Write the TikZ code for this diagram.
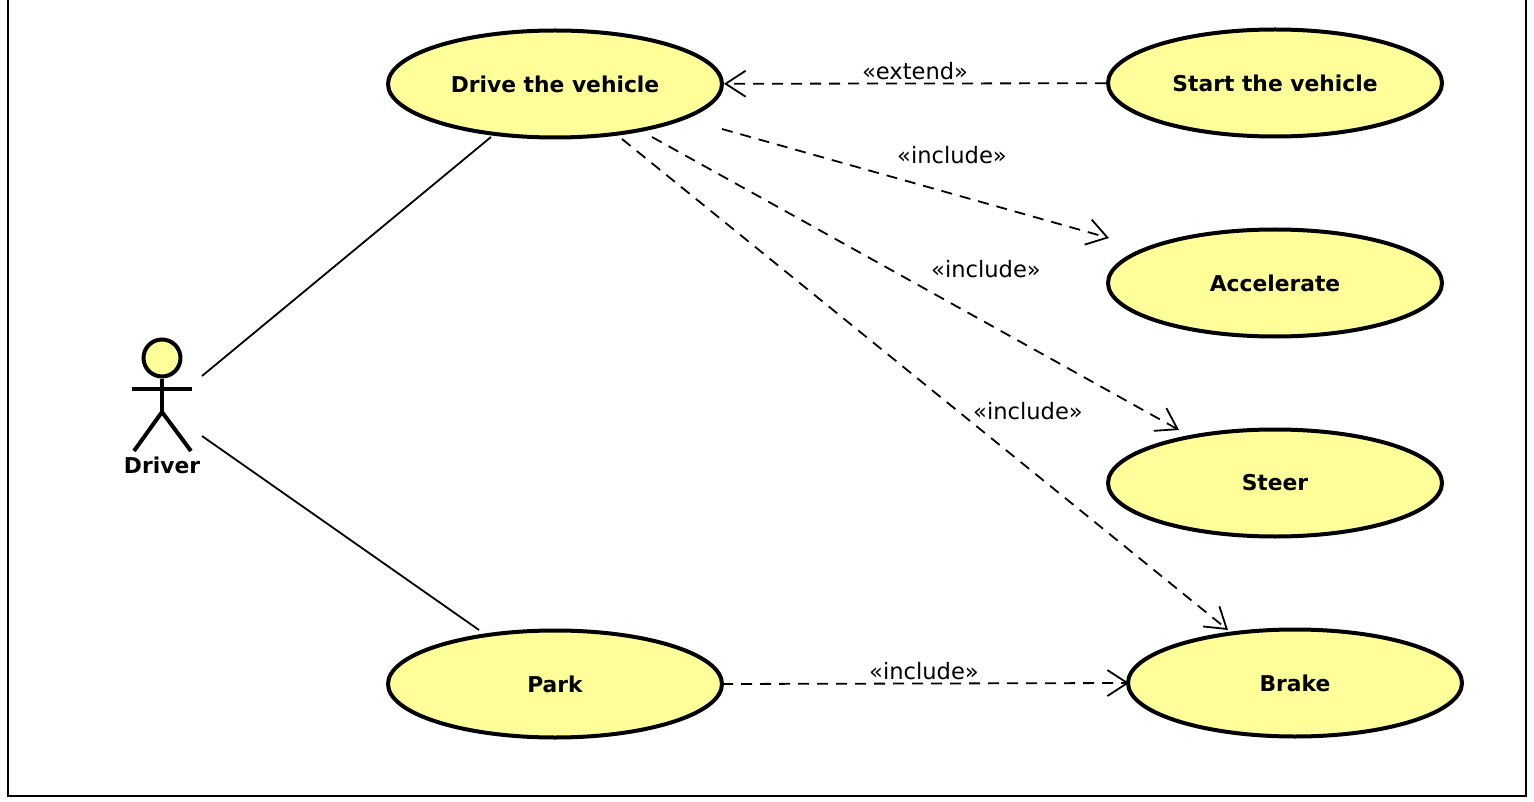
\documentclass[tikz,border=0pt]{standalone}
\usepackage{fontspec}
\setmainfont{DejaVu Sans}
\usetikzlibrary{shapes.geometric,arrows.meta}
\definecolor{ucyellow}{RGB}{255,255,153}
\tikzset{
  usecase/.style={ellipse,draw,line width=4pt,fill=ucyellow,minimum width=334pt,minimum height=107pt,inner sep=0pt,font=\fontsize{21.8}{26}\selectfont\bfseries},
  assoc/.style={line width=1.8pt},
  dep/.style={line width=1.8pt,dash pattern=on 11pt off 8pt,-{Straight Barb[length=20pt,width=26pt,line width=1.8pt]}},
  stereo/.style={font=\fontsize{22.6}{26}\selectfont,inner sep=0pt},
  stick/.style={line width=4pt}
}
\begin{document}
\begin{tikzpicture}[x=1pt,y=-1pt]
\useasboundingbox (0,0) rectangle (1534,802);
\draw[line width=2pt] (8,-5) -- (8,796) -- (1526,796) -- (1526,-5);

% use cases
\node[usecase] (drive) at (555,84) {Drive the vehicle};
\node[usecase] (start) at (1275,83) {Start the vehicle};
\node[usecase] (accel) at (1275,283) {Accelerate};
\node[usecase] (steer) at (1275,483) {Steer};
\node[usecase] (park) at (555,684) {Park};
\node[usecase] (brake) at (1295,683) {Brake};

% actor
\node[circle,draw,line width=4pt,fill=ucyellow,minimum size=37pt,inner sep=0pt] (head) at (162,358) {};
\coordinate (hip) at (162,412);
\coordinate (armL) at (132,389);
\coordinate (armR) at (192,389);
\coordinate (footL) at (134,451);
\coordinate (footR) at (191,451);
\draw[stick] (head) -- (hip);
\draw[stick] (armL) -- (armR);
\draw[stick] (footL) -- (hip) -- (footR);
\node[font=\fontsize{21.8}{26}\selectfont\bfseries,inner sep=0pt] (driver) at (162,465) {Driver};

% associations
\coordinate (a1) at (202,376);
\coordinate (a2) at (491,137);
\coordinate (a3) at (202,436);
\coordinate (a4) at (479,630);
\draw[assoc] (a1) -- (a2);
\draw[assoc] (a3) -- (a4);

% dependencies
\coordinate (d1) at (722,129);
\coordinate (d2) at (1109,238);
\coordinate (d3) at (652,137);
\coordinate (d4) at (1179,430);
\coordinate (d5) at (622,139);
\coordinate (d6) at (1228,630);
\coordinate (d7) at (722,684);
\coordinate (d8) at (1129,683);
\draw[dep] (start) -- (drive);
\draw[dep] (d1) -- (d2);
\draw[dep] (d3) -- (d4);
\draw[dep] (d5) -- (d6);
\draw[dep] (d7) -- (d8);

\node[stereo] (lext) at (915,71) {«extend»};
\node[stereo] (linc1) at (952,155) {«include»};
\node[stereo] (linc2) at (986,269) {«include»};
\node[stereo] (linc3) at (1028,411) {«include»};
\node[stereo] (linc4) at (924,671) {«include»};
\end{tikzpicture}
\end{document}
